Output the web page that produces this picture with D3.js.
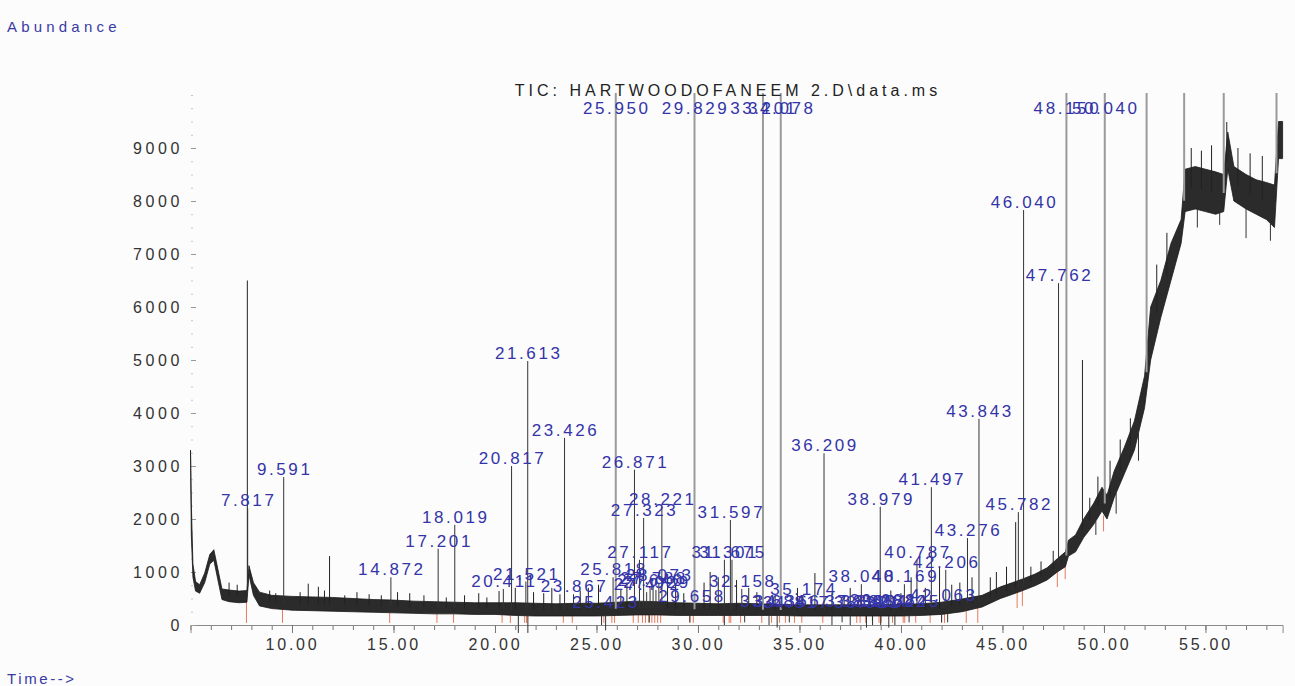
<!DOCTYPE html>
<html>
<head>
<meta charset="utf-8">
<script src="https://cdn.jsdelivr.net/npm/d3@7"></script>
<style>
body { margin: 0; background: #fcfcfc; }
text { font-family: "Liberation Sans", Arial, sans-serif; }
</style>
</head>
<body>
<div id="chart-area"></div>
<script>
'use strict';

let title = 'TIC: HARTWOODOFANEEM 2.D\\data.ms';
let xTicks = [10, 15, 20, 25, 30, 35, 40, 45, 50, 55];
let yTicks = [0, 1000, 2000, 3000, 4000, 5000, 6000, 7000, 8000, 9000];

// noise band of the trace (min / max abundance)
let bandTime = [5.00, 5.04, 5.12, 5.25, 5.45, 5.70, 5.95, 6.15, 6.35, 6.55, 6.90, 7.40, 7.78, 7.88, 8.10, 8.40,
    9.0, 10.0, 11.0, 12.0, 13.0, 14.0, 15.0, 16.0, 17.0, 18.0, 19.0, 20.0, 21.0, 22.0, 23.0, 24.0, 25.0,
    26.0, 27.0, 28.0, 29.0, 30.0, 31.0, 32.0, 33.0, 34.0, 35.0, 36.0, 37.0, 38.0, 39.0, 40.0, 41.0, 42.0,
    43.0, 44.0, 44.9, 45.5, 46.0, 46.6, 47.2, 47.7, 48.1, 48.25, 48.6, 49.0, 49.5, 49.9, 50.15, 50.5, 51.0,
    51.5, 52.0, 52.3, 52.8, 53.3, 53.8, 54.0, 54.5, 55.0, 55.5, 55.9, 56.1, 56.4, 57.0, 57.5, 58.0, 58.4,
    58.6, 58.8];
let bandLow = [3300, 1700, 900, 640, 600, 800, 1150, 1220, 850, 480, 440, 420, 430, 950, 560, 360,
    310, 280, 270, 260, 250, 240, 230, 220, 210, 210, 200, 200, 180, 170, 170, 170, 170,
    180, 190, 190, 180, 180, 180, 180, 180, 180, 170, 170, 170, 170, 170, 170, 180, 200,
    250, 340, 500, 580, 650, 740, 850, 1000, 1100, 1300, 1380, 1650, 1900, 2150, 2000, 2400, 2850,
    3300, 4100, 5000, 5800, 6500, 7200, 7800, 7850, 7800, 7750, 7800, 8600, 8000, 7850, 7750, 7650, 7500,
    8800, 8800];
let bandHigh = [3300, 2300, 1150, 820, 760, 980, 1330, 1420, 1050, 680, 660, 640, 650, 1120, 800, 620,
    560, 540, 530, 520, 500, 480, 470, 450, 440, 430, 420, 420, 420, 410, 400, 410, 410,
    430, 450, 440, 420, 410, 400, 410, 400, 390, 380, 380, 380, 380, 380, 390, 400, 430,
    490, 560, 720, 800, 870, 960, 1080, 1250, 1380, 1600, 1700, 2000, 2300, 2600, 2450, 2900, 3350,
    3850, 4700, 6000, 6500, 7200, 7650, 8600, 8650, 8600, 8550, 8500, 9300, 8650, 8500, 8400, 8350, 8300,
    9500, 9500];

// labelled peaks: retention time and apex abundance
let peakTimes = [7.817, 9.591, 14.872, 17.201, 18.019, 20.411, 20.817, 21.521, 21.613, 23.426, 23.867,
    25.423, 25.818, 25.950, 26.871, 27.117, 27.323, 27.472, 27.640, 27.788, 27.929, 28.073, 28.221,
    29.658, 29.829, 31.301, 31.597, 31.675, 32.158, 33.201, 33.684, 34.078, 34.366, 34.817, 35.174,
    36.209, 37.882, 38.048, 38.321, 38.654, 38.979, 39.088, 39.642, 40.169, 40.245, 40.787, 41.497,
    42.063, 42.206, 43.276, 43.843, 45.782, 46.040, 47.762, 48.150, 50.040];
let peakHeights = [2200, 2790, 900, 1440, 1890, 680, 3000, 820, 4980, 3530, 580,
    290, 900, 14000, 2930, 1230, 2020, 620, 700, 740, 660, 800, 2230,
    400, 14000, 1230, 1980, 1230, 680, 14000, 300, 14000, 310, 290, 530,
    3240, 310, 770, 290, 300, 2230, 320, 300, 770, 310, 1230, 2600,
    410, 1040, 1640, 3890, 2130, 7830, 6450, 14000, 14000];

// unlabelled spikes
let spikeTimes = [7.80, 6.9, 7.3, 8.9, 9.2, 10.4, 10.8, 11.3, 11.6, 11.85, 12.6, 13.2, 13.8, 14.4, 15.2,
    15.8, 16.5, 17.6, 18.5, 19.2, 19.6, 20.2, 21.0, 21.9, 22.4, 22.8, 23.2, 24.2, 24.6, 25.1, 26.2,
    26.5, 28.5, 28.9, 29.3, 30.3, 30.6, 31.0, 31.9, 32.5, 32.9, 33.8, 34.9, 35.76, 36.6, 37.2, 37.5,
    39.5, 40.0, 40.5, 41.2, 41.9, 42.5, 42.9, 43.5, 44.4, 44.7, 45.2, 45.65, 46.4, 46.9, 47.5, 48.94,
    49.3, 49.7, 50.3, 50.8, 51.3, 52.1, 52.6, 53.1, 53.95, 54.3, 54.8, 55.3, 55.9, 56.05, 56.6, 57.2,
    57.8, 58.5];
let spikeHeights = [6500, 800, 760, 650, 600, 620, 780, 720, 650, 1300, 560, 620, 580, 560, 620,
    600, 560, 520, 560, 600, 520, 640, 700, 620, 600, 700, 580, 650, 700, 760, 680,
    800, 900, 760, 600, 800, 1000, 900, 850, 700, 620, 560, 700, 980, 600, 560, 700,
    650, 600, 900, 700, 1100, 760, 800, 900, 900, 1000, 1100, 1940, 1100, 1200, 1400, 5000,
    2400, 2800, 3100, 3500, 3900, 14000, 6800, 7400, 14000, 9000, 8950, 9050, 14000, 9490, 9000, 8900,
    8850, 14000];

// downward spikes
let dipTimes = [21.15, 21.62, 25.25, 25.45, 27.6, 29.6, 31.3, 32.3, 33.5, 33.9, 34.5, 36.6, 37.1,
    37.5, 38.3, 38.6, 39.0, 39.4, 39.7, 40.4, 42.0, 42.3, 49.6, 50.6, 51.7, 54.6, 55.7, 57.0, 58.2];
let dipValues = [-150, -150, 0, -100, 50, 50, 0, 50, 0, -50, 50, 0, 50,
    0, -50, 0, 0, -50, 0, 50, 50, 50, 1700, 2100, 3100, 7500, 7550, 7300, 7250];

let width = 1295;
let height = 686;

let svg = d3.select('#chart-area').append('svg')
    .attr('width', width)
    .attr('height', height);

let x = d3.scaleLinear()
    .domain([5, 58.8])
    .range([190.5, 1282.6]);

let y = d3.scaleLinear()
    .domain([0, 10000])
    .range([625, 95]);

svg.append('defs').append('clipPath')
    .attr('id', 'plot-clip')
    .append('rect')
    .attr('x', 185)
    .attr('y', 93)
    .attr('width', 1110)
    .attr('height', 545);

// baseline level at a given time
function baseAt(t, arr) {
    let i = d3.bisectLeft(bandTime, t);
    if (i <= 0) return arr[0];
    if (i >= bandTime.length) return arr[arr.length - 1];
    let t0 = bandTime[i - 1], t1 = bandTime[i];
    let f = (t - t0) / (t1 - t0);
    return arr[i - 1] + f * (arr[i] - arr[i - 1]);
}
function mid(t) {
    return (baseAt(t, bandLow) + baseAt(t, bandHigh)) / 2;
}

// axes
let xMinor = d3.axisBottom(x)
    .tickValues(d3.range(5, 59, 1))
    .tickSize(5)
    .tickFormat('');
svg.append('g')
    .attr('class', 'x_minor')
    .attr('transform', 'translate(0, 625)')
    .call(xMinor);

let xAxis = d3.axisBottom(x)
    .tickValues(xTicks)
    .tickSize(8)
    .tickPadding(6)
    .tickFormat(d3.format('.2f'));
svg.append('g')
    .attr('class', 'x_axis')
    .attr('transform', 'translate(0, 625)')
    .call(xAxis);

let yMinor = d3.axisLeft(y)
    .tickValues(d3.range(0, 10001, 250))
    .tickSize(2)
    .tickFormat('');
svg.append('g')
    .attr('class', 'y_minor')
    .attr('transform', 'translate(193, 0)')
    .call(yMinor);

let yAxis = d3.axisLeft(y)
    .tickValues(yTicks)
    .tickSize(5)
    .tickPadding(8)
    .tickFormat(d3.format('d'));
svg.append('g')
    .attr('class', 'y_axis')
    .attr('transform', 'translate(196, 0)')
    .call(yAxis);

svg.selectAll('.x_minor path, .y_minor path, .y_axis path').remove();
svg.selectAll('.x_axis path').attr('stroke', '#8a8a8a');
svg.selectAll('.x_minor line, .x_axis line').attr('stroke', '#777');
svg.selectAll('.y_minor line').attr('stroke', '#c4c4c4');
svg.selectAll('.y_axis line').attr('stroke', '#999');
svg.selectAll('.x_axis text, .y_axis text')
    .attr('font-size', '16px')
    .attr('fill', '#333')
    .style('font-family', '"Liberation Sans", Arial, sans-serif');
svg.selectAll('.x_axis text').attr('letter-spacing', '2.8px');
svg.selectAll('.y_axis text').attr('letter-spacing', '3.6px');

let plot = svg.append('g').attr('clip-path', 'url(#plot-clip)');

// red integration markers
plot.selectAll('.marker')
    .data(peakTimes)
    .enter()
    .append('line')
        .attr('class', 'marker')
        .attr('x1', (t) => x(t - 0.06))
        .attr('x2', (t) => x(t - 0.06))
        .attr('y1', (t) => y(baseAt(t, bandLow)))
        .attr('y2', (t) => y(t > 44 ? baseAt(t, bandLow) - 300 : 40))
        .attr('stroke', '#e0502a')
        .attr('stroke-width', 1)
        .attr('opacity', 0.75);

// noise band
let band = d3.area()
    .x((d, i) => x(bandTime[i]))
    .y0((d, i) => y(bandLow[i]))
    .y1((d, i) => y(bandHigh[i]));
plot.append('path')
    .datum(bandTime)
    .attr('d', band)
    .attr('fill', '#2b2b2b')
    .attr('stroke', '#1a1a1a')
    .attr('stroke-width', 0.8);

// dips
plot.selectAll('.dip')
    .data(dipTimes)
    .enter()
    .append('line')
        .attr('class', 'dip')
        .attr('x1', (t) => x(t))
        .attr('x2', (t) => x(t))
        .attr('y1', (t) => y(baseAt(t, bandLow)))
        .attr('y2', (t, i) => y(dipValues[i]))
        .attr('stroke', '#333')
        .attr('stroke-width', 1);

// unlabelled spikes
plot.selectAll('.spike')
    .data(spikeTimes)
    .enter()
    .append('line')
        .attr('class', 'spike')
        .attr('x1', (t) => x(t))
        .attr('x2', (t) => x(t))
        .attr('y1', (t) => y(mid(t)))
        .attr('y2', (t, i) => y(spikeHeights[i]))
        .attr('stroke', (t, i) => spikeHeights[i] > 10000 ? '#9a9a9a' : '#222')
        .attr('stroke-width', (t, i) => spikeHeights[i] > 10000 ? 2 : 1);

// labelled peaks
plot.selectAll('.peak')
    .data(peakTimes)
    .enter()
    .append('line')
        .attr('class', 'peak')
        .attr('x1', (t) => x(t))
        .attr('x2', (t) => x(t))
        .attr('y1', (t) => y(mid(t)))
        .attr('y2', (t, i) => y(peakHeights[i]))
        .attr('stroke', (t, i) => peakHeights[i] > 10000 ? '#9a9a9a' : '#333')
        .attr('stroke-width', (t, i) => peakHeights[i] > 10000 ? 2 : 1);

svg.selectAll('.peak_label')
    .data(peakTimes)
    .enter()
    .append('text')
        .attr('class', 'peak_label')
        .attr('x', (t) => x(t) + 1)
        .attr('y', (t, i) => y(Math.min(peakHeights[i], 9600)) - 2)
        .attr('text-anchor', 'middle')
        .attr('font-size', '17px')
        .attr('letter-spacing', '2.6px')
        .attr('fill', '#3434a8')
        .text((t) => t.toFixed(3));

svg.append('text')
    .attr('class', 'title')
    .attr('x', 728)
    .attr('y', 96)
    .attr('text-anchor', 'middle')
    .attr('font-size', '16px')
    .attr('letter-spacing', '4px')
    .attr('fill', '#222')
    .text(title);

svg.append('text')
    .attr('class', 'y_label')
    .attr('x', 7)
    .attr('y', 32)
    .attr('font-size', '15px')
    .attr('letter-spacing', '4.2px')
    .attr('fill', '#3a3aa4')
    .text('Abundance');

svg.append('text')
    .attr('class', 'x_label')
    .attr('x', 7)
    .attr('y', 684)
    .attr('font-size', '15px')
    .attr('letter-spacing', '2.6px')
    .attr('fill', '#3a3aa4')
    .text('Time-->');
</script>
</body>
</html>
